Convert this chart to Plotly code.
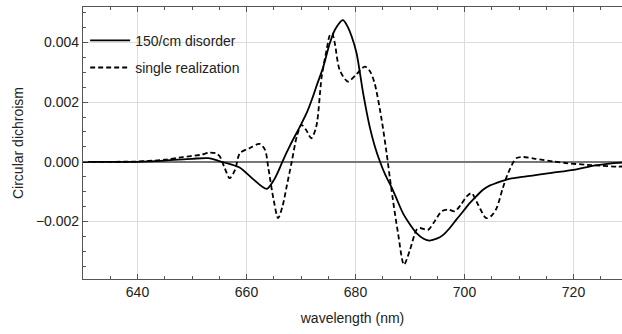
import plotly.graph_objects as go

# (wavelength in nm, CD in units of 1e-3)
disorder_wl = [630, 640, 645, 650, 653, 655.4, 657, 658.8, 661.2, 663.7, 665, 666, 666.7, 668, 669.8,
               671, 672.2, 673, 674.1, 675.3, 676.3, 677.7, 678.5, 679.3, 680.2, 681.4, 682.6, 683.5,
               684.5, 685.5, 686.6, 687.5, 688.7, 690, 691.2, 692.5, 693.6, 695, 696.1, 697.3, 698.5,
               699.8, 701, 702.2, 703.4, 704.6, 705.9, 708, 710, 713, 716, 720, 724, 727, 730]
disorder_cd = [0.0, 0.0, 0.04, 0.10, 0.12, 0.0, -0.08, -0.20, -0.58, -0.91, -0.62, -0.25, 0.05, 0.55, 1.18,
               1.62, 2.19, 2.62, 3.19, 3.98, 4.45, 4.75, 4.55, 4.20, 3.64, 2.30, 1.18, 0.55,
               0.0, -0.45, -0.85, -1.22, -1.72, -2.10, -2.39, -2.58, -2.64, -2.57, -2.45, -2.22, -1.94,
               -1.65, -1.38, -1.15, -0.94, -0.80, -0.71, -0.58, -0.52, -0.45, -0.37, -0.27, -0.12, -0.05, -0.02]

single_wl = [630, 640, 645, 648.3, 651.5, 653.3, 654.4, 655.1, 656.0, 656.9, 657.9, 658.8, 660.6, 662.4,
             663.4, 664.0, 665.0, 665.8, 666.6, 667.4, 668.3, 669.3, 670.1, 671.0, 671.9, 672.8, 673.8,
             674.7, 675.3, 675.7, 676.2, 677.1, 678.6, 680.0, 681.7, 682.6, 683.5, 684.8, 685.7, 686.6,
             687.8, 688.9, 690.0, 691.2, 691.8, 693.3, 694.5, 695.8, 697.0, 698.2, 699.3, 700.4, 701.3,
             702.5, 704.0, 705.0, 705.9, 707.0, 708.0, 709.5, 710.8, 713.0, 716.3, 719.0, 722.4, 725.0,
             728.0, 730.0]
single_cd = [0.0, 0.01, 0.07, 0.16, 0.23, 0.31, 0.28, 0.18, -0.21, -0.55, -0.27, 0.29, 0.46, 0.60,
             0.40, -0.20, -1.30, -1.89, -1.50, -0.80, 0.0, 0.90, 1.24, 1.05, 0.79, 1.18, 2.86,
             3.75, 4.25, 4.31, 3.98, 3.08, 2.69, 2.90, 3.19, 3.05, 2.64, 1.41, 0.30, -0.94,
             -2.39, -3.45, -2.95, -2.28, -2.22, -2.28, -2.00, -1.66, -1.60, -1.66, -1.45, -1.16, -1.05,
             -1.44, -1.89, -1.80, -1.55, -0.90, -0.38, 0.12, 0.16, 0.10, 0.01, -0.05, -0.10, -0.13,
             -0.16, -0.15]

x_ticks = [640, 660, 680, 700, 720]
y_ticks = [-0.002, 0.0, 0.002, 0.004]
y_tick_text = ["\u22120.002", "0.000", "0.002", "0.004"]

scale = 1e-3
font = "Liberation Sans, Arial, sans-serif"

fig = go.Figure()
fig.add_trace(go.Scatter(x=disorder_wl, y=[v * scale for v in disorder_cd], mode="lines",
                         name="150/cm disorder", legendgroup="a",
                         line=dict(color="black", width=1.8, shape="spline", smoothing=0.8)))
fig.add_trace(go.Scatter(x=single_wl, y=[v * scale for v in single_cd], mode="lines",
                         name="single realization", legendgroup="b",
                         line=dict(color="black", width=1.8, dash="5px,3px", shape="spline", smoothing=0.8)))

fig.update_layout(
    width=622, height=334,
    margin=dict(l=83, r=0, t=7, b=55, autoexpand=False),
    plot_bgcolor="white", paper_bgcolor="white",
    font=dict(family=font, size=14, color="#222"),
    showlegend=True,
    legend=dict(x=0.004, y=0.935, xanchor="left", yanchor="top", bgcolor="rgba(0,0,0,0)",
                font=dict(size=14, color="#222"), itemwidth=40, tracegroupgap=6, traceorder="grouped"),
)
fig.update_xaxes(
    range=[630, 728.9], tickvals=x_ticks, ticks="inside", ticklen=5, tickcolor="#555",
    showline=True, linecolor="#555", linewidth=1.2, mirror="ticks", automargin=False,
    showgrid=True, gridcolor="#dcdcdc", gridwidth=1, zeroline=False,
    minor=dict(dtick=5, tick0=630, ticks="inside", ticklen=3, tickcolor="#555", showgrid=False),
    title=dict(text="wavelength (nm)", standoff=14, font=dict(size=14)),
)
fig.update_yaxes(
    range=[-0.00393, 0.00519], tickvals=y_ticks, ticktext=y_tick_text, ticks="inside", ticklen=5,
    tickcolor="#555", showline=True, linecolor="#555", linewidth=1.2, mirror=False, automargin=False,
    showgrid=True, gridcolor="#dcdcdc", gridwidth=1,
    zeroline=True, zerolinecolor="#777", zerolinewidth=1.5,
    minor=dict(dtick=0.0005, tick0=0, ticks="inside", ticklen=3, tickcolor="#555", showgrid=False),
    title=dict(text="Circular dichroism", standoff=8, font=dict(size=14)),
)

fig.write_html("out.html", config={"displayModeBar": False},
               post_script="document.body.style.margin='0';document.body.style.overflow='hidden';")
